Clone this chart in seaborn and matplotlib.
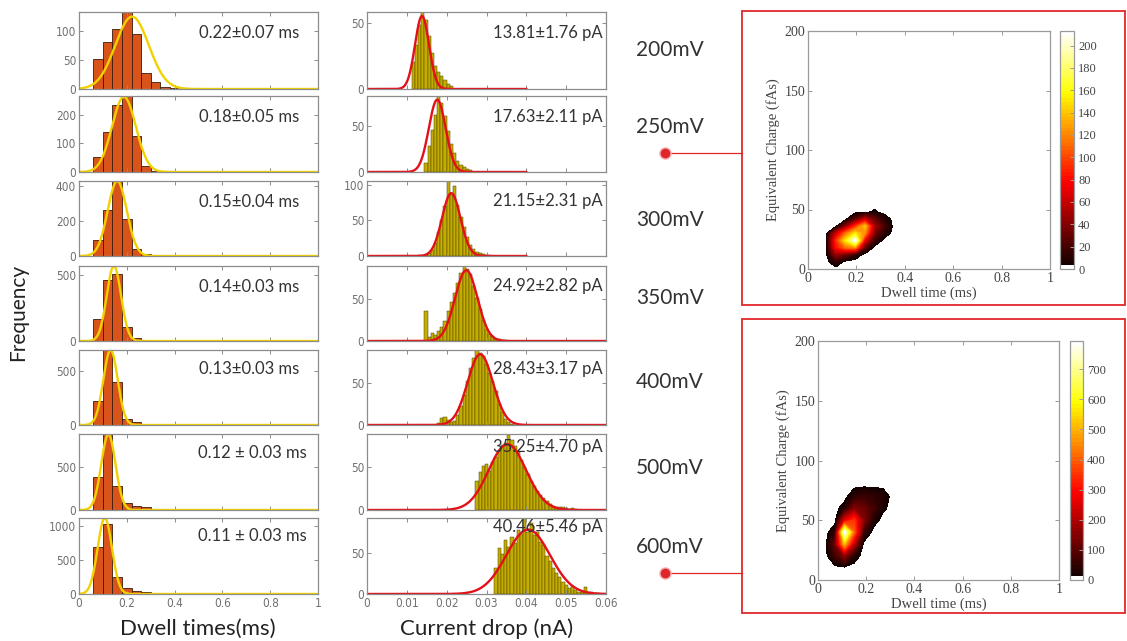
import numpy as np
import pandas as pd
import matplotlib
matplotlib.use("Agg")
import matplotlib.pyplot as plt
from matplotlib.colors import ListedColormap, BoundaryNorm
from matplotlib.patches import Rectangle
from matplotlib.lines import Line2D
import seaborn as sns

# ---------------- data ----------------
voltages = ["200mV", "250mV", "300mV", "350mV", "400mV", "500mV", "600mV"]

# dwell-time histograms: bins of 0.04 ms starting at 0.06 ms
dwell_edge0 = 0.06
dwell_width = 0.04
dwell_counts = [
    [52, 82, 103, 133, 95, 27, 12, 3, 1, 1],
    [51, 140, 232, 265, 126, 20, 3, 2, 1],
    [91, 263, 430, 210, 38, 12, 3, 5, 1],
    [166, 458, 505, 104, 25, 8, 10, 8, 2, 1, 1, 0, 3],
    [221, 690, 394, 55, 24, 12, 4, 3, 2],
    [376, 876, 282, 86, 49, 30, 8, 4, 2],
    [693, 1039, 244, 83, 49, 24, 8, 4, 2],
]
dwell_fit_mu = [0.222, 0.188, 0.160, 0.146, 0.132, 0.123, 0.108]
dwell_fit_sd = [0.07, 0.05, 0.04, 0.03, 0.03, 0.03, 0.03]
dwell_fit_amp = [125, 262, 430, 567, 690, 870, 1122]
dwell_labels = ["0.22\u00b10.07 ms", "0.18\u00b10.05 ms", "0.15\u00b10.04 ms",
                "0.14\u00b10.03 ms", "0.13\u00b10.03 ms", "0.12 \u00b1 0.03 ms",
                "0.11 \u00b1 0.03 ms"]
dwell_yticks = [[0, 50, 100], [0, 100, 200], [0, 200, 400], [0, 500],
                [0, 500], [0, 500], [0, 500, 1000]]

# current-drop histograms: bins of 0.0008 nA
cur_width = 0.0008
cur_edge0 = [0.0112, 0.0144, 0.0128, 0.0144, 0.0176, 0.0272, 0.0320]
cur_counts = [
    [20, 33, 48, 58, 52, 40, 27, 17, 13, 10, 7, 4, 2],
    [10, 28, 45, 62, 82, 74, 60, 44, 30, 20, 12, 8, 5, 3, 2],
    [2, 0, 1, 4, 8, 18, 33, 50, 70, 105, 86, 98, 72, 55, 40, 27, 16, 10, 6, 4, 3, 1, 1],
    [36, 5, 10, 7, 12, 17, 24, 36, 47, 58, 70, 82, 90, 86, 80, 66, 52, 38, 25, 15,
     9, 6, 3, 2, 1, 1],
    [2, 8, 9, 6, 3, 5, 12, 22, 36, 52, 68, 80, 89, 86, 82, 72, 62, 52, 40, 25, 15,
     7, 3, 1],
    [34, 44, 52, 54, 46, 56, 62, 70, 76, 78, 89, 82, 75, 68, 58, 50, 42, 34, 28, 22,
     18, 14, 10, 7, 5, 4, 3, 4, 2, 1, 2, 1],
    [32, 56, 49, 65, 57, 69, 62, 78, 73, 92, 75, 86, 71, 75, 63, 59, 46, 40, 32, 26,
     20, 15, 11, 7, 10, 5, 3, 2, 8, 3, 2, 1, 1],
]
cur_fit_mu = [0.01381, 0.01763, 0.02115, 0.02492, 0.02843, 0.03525, 0.04046]
cur_fit_sd = [0.00176, 0.00211, 0.00231, 0.00282, 0.00317, 0.00470, 0.00546]
cur_fit_amp = [55, 78, 88, 85, 84, 77, 78]
cur_fit_end = [0.04, 0.04, 0.04, 0.06, 0.06, 0.06, 0.06]
cur_labels = ["13.81\u00b11.76 pA", "17.63\u00b12.11 pA", "21.15\u00b12.31 pA",
              "24.92\u00b12.82 pA", "28.43\u00b13.17 pA", "35.25\u00b14.70 pA",
              "40.46\u00b15.46 pA"]
cur_yticks = [[0, 50], [0, 50], [0, 50, 100], [0, 50], [0, 50], [0, 50], [0, 50]]

# 2-D event maps (dwell time vs equivalent charge)
map1_x = [0.075, 0.115, 0.155, 0.195, 0.235, 0.275, 0.315, 0.355]
map1_y = [0, 6, 12, 18, 24, 30, 36, 42, 48, 54]
map1_counts = [
    [0, 0, 0, 0, 0, 0, 0, 0],
    [0, 12, 0, 0, 0, 0, 0, 0],
    [0, 45, 30, 10, 0, 0, 0, 0],
    [0, 80, 110, 120, 25, 0, 0, 0],
    [0, 90, 150, 213, 70, 15, 0, 0],
    [0, 60, 110, 150, 120, 35, 10, 0],
    [0, 0, 40, 90, 140, 50, 20, 0],
    [0, 0, 0, 25, 60, 30, 10, 0],
    [0, 0, 0, 0, 0, 5, 0, 0],
    [0, 0, 0, 0, 0, 0, 0, 0],
]
map2_x = [0.03, 0.07, 0.11, 0.15, 0.19, 0.23, 0.27, 0.31]
map2_y = [0, 10, 20, 30, 40, 50, 60, 70, 80, 90]
map2_counts = [
    [0, 0, 0, 0, 0, 0, 0, 0],
    [0, 0, 0, 0, 0, 0, 0, 0],
    [0, 60, 150, 30, 0, 0, 0, 0],
    [0, 120, 500, 200, 0, 0, 0, 0],
    [0, 40, 794, 400, 60, 0, 0, 0],
    [0, 0, 250, 350, 150, 30, 0, 0],
    [0, 0, 30, 150, 120, 70, 20, 0],
    [0, 0, 0, 40, 60, 50, 35, 0],
    [0, 0, 0, 0, 0, 0, 0, 0],
    [0, 0, 0, 0, 0, 0, 0, 0],
]
map1_cticks = [0, 20, 40, 60, 80, 100, 120, 140, 160, 180, 200]
map2_cticks = [0, 100, 200, 300, 400, 500, 600, 700]

# ---------------- figure ----------------
W, H = 1127, 641
fig = plt.figure(figsize=(W / 100, H / 100), dpi=100)
fig.patch.set_facecolor("white")


def fax(x0, y0, x1, y1):
    """axes from pixel box (left, top, right, bottom)"""
    return fig.add_axes([x0 / W, 1 - y1 / H, (x1 - x0) / W, (y1 - y0) / H])


rows = [(12, 89), (96, 172), (181, 256), (266, 341), (350, 425), (434, 510), (518, 594)]
tick_font = ["Liberation Sans Narrow", "DejaVu Sans"]
label_font = ["Lato", "DejaVu Sans"]
spine_c = "#8c8c8c"
tick_c = "#707070"


def style_hist_axes(ax):
    for s in ax.spines.values():
        s.set_color(spine_c)
        s.set_linewidth(0.9)
    ax.tick_params(direction="in", top=True, right=True, length=3, width=0.7,
                   colors=spine_c, labelcolor=tick_c, labelsize=8.5, pad=2)
    for lab in ax.get_xticklabels() + ax.get_yticklabels():
        lab.set_family(tick_font)
        lab.set_stretch("condensed")
    ax.set_xlabel("")
    ax.set_ylabel("")


def hist(ax, edge0, width, counts, color, ec, lw):
    n = len(counts)
    centers = edge0 + width * (np.arange(n) + 0.5)
    df = pd.DataFrame({"x": centers, "w": np.asarray(counts, dtype=float)})
    sns.histplot(data=df, x="x", weights="w", binwidth=width,
                 binrange=(edge0, edge0 + width * n), ax=ax, color=color,
                 edgecolor=ec, linewidth=lw, alpha=1)


for i in range(7):
    top, bot = rows[i]
    # ---- dwell time ----
    ax = fax(79, top, 318, bot)
    counts = dwell_counts[i]
    hist(ax, dwell_edge0, dwell_width, counts, "#d9541a", "#3b1a0c", 0.6)
    xs = np.linspace(0, 1, 500)
    ys = dwell_fit_amp[i] * np.exp(-0.5 * ((xs - dwell_fit_mu[i]) / dwell_fit_sd[i]) ** 2)
    sns.lineplot(x=xs, y=ys, ax=ax, color="#f2d100", linewidth=1.7)
    ax.set_xlim(0, 1)
    ax.set_ylim(0, max(max(counts), dwell_fit_amp[i]))
    ax.set_xticks([0, 0.2, 0.4, 0.6, 0.8, 1])
    ax.set_yticks(dwell_yticks[i])
    ax.set_yticklabels([str(v) for v in dwell_yticks[i]])
    if i == 6:
        ax.set_xticklabels(["0", "0.2", "0.4", "0.6", "0.8", "1"])
    else:
        ax.set_xticklabels([])
    style_hist_axes(ax)
    ha_x = 0.955 if " \u00b1 " in dwell_labels[i] else 0.92
    ax.text(ha_x, [0.73, 0.72, 0.72, 0.72, 0.75, 0.75, 0.76][i], dwell_labels[i],
            transform=ax.transAxes, ha="right", va="center", fontsize=12,
            color="#333333", family=label_font)

    # ---- current drop ----
    ax = fax(367, top, 606, bot)
    counts = cur_counts[i]
    hist(ax, cur_edge0[i], cur_width, counts, "#c4ad00", "#4d4300", 0.35)
    xs = np.linspace(0, cur_fit_end[i], 500)
    ys = cur_fit_amp[i] * np.exp(-0.5 * ((xs - cur_fit_mu[i]) / cur_fit_sd[i]) ** 2)
    sns.lineplot(x=xs, y=ys, ax=ax, color="#e3101a", linewidth=1.7)
    ax.set_xlim(0, 0.06)
    ax.set_ylim(0, max(max(counts), cur_fit_amp[i]))
    ax.set_xticks([0, 0.01, 0.02, 0.03, 0.04, 0.05, 0.06])
    ax.set_yticks(cur_yticks[i])
    ax.set_yticklabels([str(v) for v in cur_yticks[i]])
    if i == 6:
        ax.set_xticklabels(["0", "0.01", "0.02", "0.03", "0.04", "0.05", "0.06"])
    else:
        ax.set_xticklabels([])
    style_hist_axes(ax)
    ax.text(0.986, [0.73, 0.73, 0.73, 0.73, 0.75, 0.83, 0.88][i], cur_labels[i],
            transform=ax.transAxes, ha="right", va="center", fontsize=12,
            color="#333333", family=label_font)

# voltage labels
volt_y = [50, 127, 220, 298, 382, 468, 547]
for v, y in zip(voltages, volt_y):
    fig.text(670 / W, 1 - y / H, v, ha="center", va="center", fontsize=15,
             color="#333333", family=label_font)

fig.text(18 / W, 1 - 312 / H, "Frequency", rotation=90, ha="center", va="center",
         fontsize=15, color="#222222", family=label_font)
fig.text(198 / W, 1 - 629 / H, "Dwell times(ms)", ha="center", va="center",
         fontsize=16, color="#222222", family=label_font)
fig.text(487 / W, 1 - 629 / H, "Current drop (nA)", ha="center", va="center",
         fontsize=16, color="#222222", family=label_font)

# ---------------- heat maps ----------------
serif = ["Liberation Serif", "DejaVu Serif"]


def hot_white(n=64):
    cols = plt.cm.hot(np.linspace(0, 1, n))
    cols[0] = (1, 1, 1, 1)
    return ListedColormap(cols)


def draw_map(box, cbox, mx, my, mz, cticks):
    ax = fax(*box)
    Z = np.array(mz, dtype=float)
    vmax = Z.max()
    levels = np.linspace(0, vmax, 65)
    cmap = hot_white(64)
    norm = BoundaryNorm(levels, cmap.N)
    cs = ax.contourf(mx, my, Z, levels=levels, cmap=cmap, norm=norm)
    ax.set_xlim(0, 1)
    ax.set_ylim(0, 200)
    ax.set_xticks([0, 0.2, 0.4, 0.6, 0.8, 1])
    ax.set_xticklabels(["0", "0.2", "0.4", "0.6", "0.8", "1"])
    ax.set_yticks([0, 50, 100, 150, 200])
    for s in ax.spines.values():
        s.set_color("#9a9a9a")
        s.set_linewidth(0.9)
    ax.tick_params(direction="in", top=True, right=True, length=3, width=0.7,
                   colors="#9a9a9a", labelcolor="#444444", labelsize=10, pad=2)
    for lab in ax.get_xticklabels() + ax.get_yticklabels():
        lab.set_family(serif)
    ax.set_xlabel("Dwell time (ms)", fontsize=10.5, family=serif, color="#444444",
                  labelpad=1)
    ax.set_ylabel("Equivalent Charge (fAs)", fontsize=10.5, family=serif,
                  color="#444444", labelpad=3)
    cax = fax(*cbox)
    cb = fig.colorbar(cs, cax=cax, ticks=cticks)
    cb.minorticks_off()
    cb.outline.set_edgecolor("#9a9a9a")
    cb.outline.set_linewidth(0.9)
    cax.tick_params(which="both", direction="in", length=3, width=0.7,
                    colors="#9a9a9a", labelcolor="#444444", labelsize=9, pad=3)
    cax.tick_params(which="minor", length=0)
    for lab in cax.get_yticklabels():
        lab.set_family(serif)


draw_map((808, 31, 1050, 269), (1060, 31, 1074, 269), map1_x, map1_y, map1_counts,
         map1_cticks)
draw_map((818, 341, 1059, 580), (1070, 341, 1083, 580), map2_x, map2_y, map2_counts,
         map2_cticks)

# red frames and connectors
red = "#e0262b"
for (y0, y1) in [(11, 305), (319, 613)]:
    fig.add_artist(Rectangle((742 / W, 1 - y1 / H), (1125 - 742) / W, (y1 - y0) / H,
                             transform=fig.transFigure, fill=False, edgecolor=red,
                             linewidth=1.3))
for yd in [153, 573]:
    fig.add_artist(Line2D([665 / W, 742 / W], [1 - yd / H, 1 - yd / H],
                          transform=fig.transFigure, color=red, linewidth=0.9))
    fig.add_artist(Line2D([665 / W], [1 - yd / H], transform=fig.transFigure,
                          marker="o", markersize=8, color=red,
                          markeredgecolor="#f4b0b0", markeredgewidth=1.0))

fig.savefig("out.png", dpi=100, facecolor="white")
